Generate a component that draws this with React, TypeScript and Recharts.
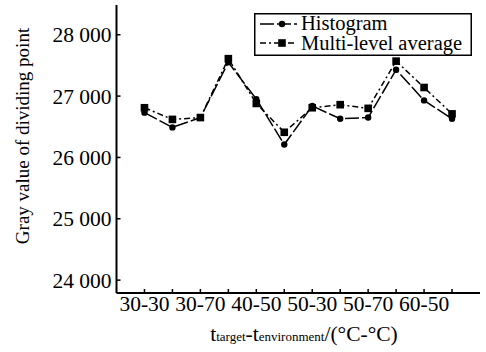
import React from "react"
import { LineChart, Line, XAxis, YAxis } from "recharts"

// x positions of the 12 measurements (index along the axis)
const pointIndex = [1, 2, 3, 4, 5, 6, 7, 8, 9, 10, 11, 12]
const tickLabels = ["30-30", "30-70", "40-50", "50-30", "50-70", "60-50"]
const histogram = [26730, 26490, 26650, 27550, 26950, 26210, 26840, 26630, 26650, 27430, 26930, 26630]
const multiLevel = [26810, 26620, 26650, 27610, 26880, 26410, 26810, 26860, 26800, 27570, 27140, 26710]
const yTicks = [24000, 25000, 26000, 27000, 28000]

const data = pointIndex.map((idx, i) => ({ idx, histogram: histogram[i], multiLevel: multiLevel[i] }))

const FONT = "'Liberation Serif', 'Times New Roman', serif"
const FS = 21.5
const X_DOMAIN = [0, 13]
const Y_DOMAIN = [23790, 28485]
const M = 6
const TICK = 4

const fmtY = (v: number) => {
  const s = String(v)
  return s.slice(0, s.length - 3) + " " + s.slice(-3)
}

const BottomTick = (props: any) => {
  const { x, y, payload } = props
  const axisY = y - M
  const i = payload.value
  const label = i % 2 === 1 ? tickLabels[(i - 1) / 2] : ""
  return (
    <g>
      <line x1={x} x2={x} y1={axisY} y2={axisY - TICK} stroke="#000" strokeWidth={1.5} />
      {label && (
        <text x={x} y={axisY + 18} textAnchor="middle" fontSize={FS} fontFamily={FONT} fill="#000">
          {label}
        </text>
      )}
    </g>
  )
}

const LeftTick = (props: any) => {
  const { x, y, payload } = props
  const axisX = x + M
  return (
    <g>
      <line x1={axisX} x2={axisX + TICK} y1={y} y2={y} stroke="#000" strokeWidth={1.5} />
      <text x={axisX - 5} y={y} dy="0.35em" textAnchor="end" fontSize={FS} fontFamily={FONT} fill="#000">
        {fmtY(payload.value)}
      </text>
    </g>
  )
}

const TopTick = (props: any) => {
  const { x, y } = props
  const axisY = y + M
  return <line x1={x} x2={x} y1={axisY} y2={axisY + TICK} stroke="#000" strokeWidth={1.5} />
}

const RightTick = (props: any) => {
  const { x, y } = props
  const axisX = x - M
  return <line x1={axisX} x2={axisX - TICK} y1={y} y2={y} stroke="#000" strokeWidth={1.5} />
}

const CircleDot = (props: any) => {
  const { cx, cy, index } = props
  return <circle key={"c" + index} cx={cx} cy={cy} r={3.2} fill="#000" />
}

const SquareDot = (props: any) => {
  const { cx, cy, index } = props
  return <rect key={"s" + index} x={cx - 3.8} y={cy - 3.8} width={7.6} height={7.6} fill="#000" />
}

const YTitle = () => (
  <text
    x={22}
    y={136}
    transform="rotate(-90, 22, 136)"
    dy="0.35em"
    textAnchor="middle"
    fontSize={19}
    fontFamily={FONT}
    fill="#000"
  >
    Gray value of dividing point
  </text>
)

const LegendBox = () => (
  <g transform="translate(254, 13)">
    <rect x={0.75} y={0.75} width={216.5} height={41.5} fill="#fff" stroke="#000" strokeWidth={1.5} />
    <line x1={6} x2={43} y1={11} y2={11} stroke="#000" strokeWidth={1.5} strokeDasharray="14 3" />
    <circle cx={28} cy={11} r={3.2} fill="#000" />
    <text x={47} y={17} fontSize={20.5} fontFamily={FONT} fill="#000">Histogram</text>
    <line x1={6} x2={43} y1={30} y2={30} stroke="#000" strokeWidth={1.5} strokeDasharray="6 3 2 3" />
    <rect x={24.2} y={26.2} width={7.6} height={7.6} fill="#000" />
    <text x={47} y={36.5} fontSize={20.5} fontFamily={FONT} fill="#000">Multi-level average</text>
  </g>
)

export default function App() {
  return (
    <div style={{ position: "absolute", left: 0, top: 0, width: 486, height: 352, background: "#fff" }}>
      <LineChart width={486} height={352} data={data} margin={{ top: 5, right: 6, bottom: 0, left: 0 }}>
        <XAxis
          dataKey="idx"
          type="number"
          domain={X_DOMAIN}
          ticks={pointIndex}
          allowDataOverflow
          height={59}
          tickSize={0}
          tickMargin={M}
          tickLine={false}
          tick={<BottomTick />}
          axisLine={{ stroke: "#000", strokeWidth: 2 }}
          interval={0}
        />
        <XAxis
          xAxisId="top"
          orientation="top"
          type="number"
          domain={X_DOMAIN}
          ticks={pointIndex}
          allowDataOverflow
          height={0}
          tickSize={0}
          tickMargin={M}
          tickLine={false}
          tick={<TopTick />}
          axisLine={{ stroke: "#000", strokeWidth: 2 }}
          interval={0}
        />
        <YAxis
          type="number"
          domain={Y_DOMAIN}
          ticks={yTicks}
          allowDataOverflow
          width={116.5}
          tickSize={0}
          tickMargin={M}
          tickLine={false}
          tick={<LeftTick />}
          axisLine={{ stroke: "#000", strokeWidth: 2 }}
          interval={0}
          label={{ content: () => <YTitle /> }}
        />
        <YAxis
          yAxisId="right"
          orientation="right"
          type="number"
          domain={Y_DOMAIN}
          ticks={yTicks}
          allowDataOverflow
          width={0}
          tickSize={0}
          tickMargin={M}
          tickLine={false}
          tick={<RightTick />}
          axisLine={{ stroke: "#000", strokeWidth: 2 }}
          interval={0}
        />
        <Line
          dataKey="histogram"
          stroke="#000"
          strokeWidth={1.5}
          strokeDasharray="14 3"
          dot={<CircleDot />}
          activeDot={false}
          isAnimationActive={false}
        />
        <Line
          dataKey="multiLevel"
          stroke="#000"
          strokeWidth={1.5}
          strokeDasharray="6 3 2 3"
          dot={<SquareDot />}
          activeDot={false}
          isAnimationActive={false}
        />
      </LineChart>
      <svg width={486} height={352} style={{ position: "absolute", left: 0, top: 0, pointerEvents: "none" }}>
        <LegendBox />
        <text x={304} y={341} textAnchor="middle" fontFamily={FONT} fill="#000" fontSize={FS}>
          t<tspan fontSize={13}>target</tspan>-t<tspan fontSize={13}>environment</tspan>/(°C-°C)
        </text>
      </svg>
    </div>
  )
}
